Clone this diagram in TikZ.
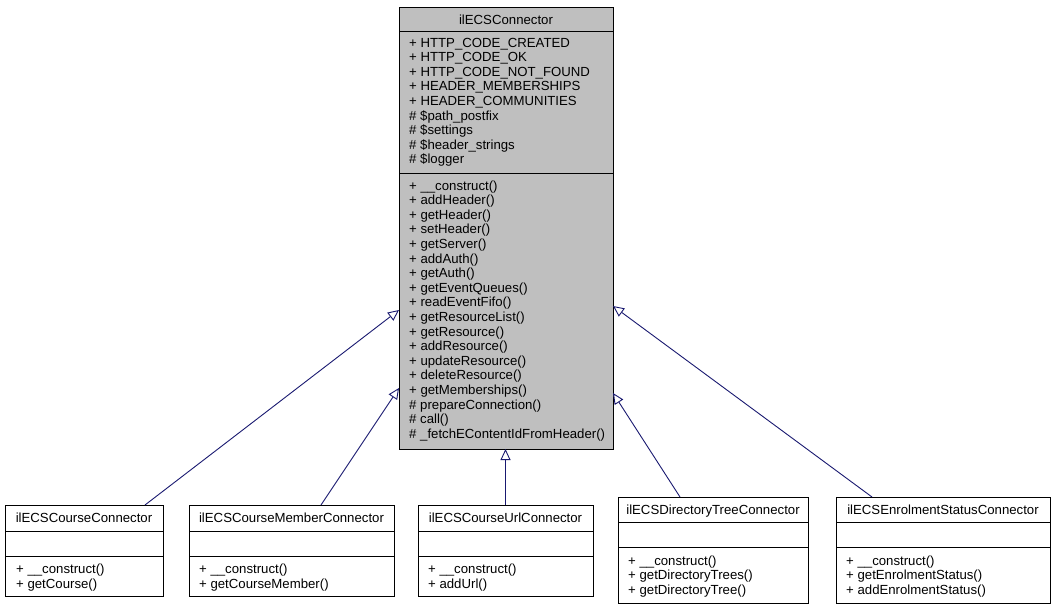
\documentclass[tikz,border=0pt]{standalone}
\usepackage{fontspec}
\setmainfont{Liberation Sans}
\usetikzlibrary{arrows.meta}
\definecolor{edgeblue}{HTML}{191970}
\definecolor{boxgray}{HTML}{BFBFBF}
\begin{document}
\begin{tikzpicture}[x=1pt,y=-1pt,
  box/.style={draw=black,line width=0.9pt,anchor=north west,inner sep=0pt,outer sep=0pt},
  sep/.style={draw=black,line width=0.9pt},
  txt/.style={anchor=mid west,inner sep=0pt,yshift=-1.5pt,font=\fontsize{13.2}{15}\selectfont},
  ttl/.style={anchor=mid,inner sep=0pt,yshift=-1.5pt,font=\fontsize{13.2}{15}\selectfont},
  inherit/.style={draw=edgeblue,line width=0.9pt,-{Triangle[length=11pt,width=10pt,fill=white]}}]
\useasboundingbox (0,0) rectangle (1055,609);

% main class
\node[box,fill=boxgray,minimum width=214pt,minimum height=442pt] (main) at (399,7) {};
\draw[sep] (399,31) -- (613,31);
\draw[sep] (399,173) -- (613,173);
\node[ttl] (mt) at (506,20) {ilECSConnector};
\foreach \t [count=\i from 0] in {+ HTTP\_CODE\_CREATED,+ HTTP\_CODE\_OK,+ HTTP\_CODE\_NOT\_FOUND,+ HEADER\_MEMBERSHIPS,+ HEADER\_COMMUNITIES,\# \$path\_postfix,\# \$settings,\# \$header\_strings,\# \$logger}
  \node[txt] (ma\i) at (409,{43+14.6*\i}) {\t};
\foreach \t [count=\i from 0] in {+ \_\_construct(),+ addHeader(),+ getHeader(),+ setHeader(),+ getServer(),+ addAuth(),+ getAuth(),+ getEventQueues(),+ readEventFifo(),+ getResourceList(),+ getResource(),+ addResource(),+ updateResource(),+ deleteResource(),+ getMemberships(),\# prepareConnection(),\# call(),\# \_fetchEContentIdFromHeader()}
  \node[txt] (mm\i) at (409,{186+14.6*\i}) {\t};

% child 1
\node[box,fill=white,minimum width=158pt,minimum height=91pt] (c1) at (5,505) {};
\draw[sep] (5,531) -- (163,531);
\draw[sep] (5,556) -- (163,556);
\node[ttl] (c1t) at (84,518.5) {ilECSCourseConnector};
\node[txt] (c1m1) at (16,569.5) {+ \_\_construct()};
\node[txt] (c1m2) at (16,584) {+ getCourse()};

% child 2
\node[box,fill=white,minimum width=205pt,minimum height=91pt] (c2) at (189,505) {};
\draw[sep] (189,531) -- (394,531);
\draw[sep] (189,556) -- (394,556);
\node[ttl] (c2t) at (291.5,518.5) {ilECSCourseMemberConnector};
\node[txt] (c2m1) at (199,569.5) {+ \_\_construct()};
\node[txt] (c2m2) at (199,584) {+ getCourseMember()};

% child 3
\node[box,fill=white,minimum width=175pt,minimum height=91pt] (c3) at (418,505) {};
\draw[sep] (418,531) -- (593,531);
\draw[sep] (418,556) -- (593,556);
\node[ttl] (c3t) at (505.5,518.5) {ilECSCourseUrlConnector};
\node[txt] (c3m1) at (428,569.5) {+ \_\_construct()};
\node[txt] (c3m2) at (428,584) {+ addUrl()};

% child 4
\node[box,fill=white,minimum width=190pt,minimum height=106pt] (c4) at (618,497) {};
\draw[sep] (618,522.5) -- (808,522.5);
\draw[sep] (618,547.5) -- (808,547.5);
\node[ttl] (c4t) at (713,510) {ilECSDirectoryTreeConnector};
\node[txt] (c4m1) at (628,561) {+ \_\_construct()};
\node[txt] (c4m2) at (628,575.5) {+ getDirectoryTrees()};
\node[txt] (c4m3) at (628,590) {+ getDirectoryTree()};

% child 5
\node[box,fill=white,minimum width=214pt,minimum height=106pt] (c5) at (836,497) {};
\draw[sep] (836,522.5) -- (1050,522.5);
\draw[sep] (836,547.5) -- (1050,547.5);
\node[ttl] (c5t) at (943,510) {ilECSEnrolmentStatusConnector};
\node[txt] (c5m1) at (846,561) {+ \_\_construct()};
\node[txt] (c5m2) at (846,575.5) {+ getEnrolmentStatus()};
\node[txt] (c5m3) at (846,590) {+ addEnrolmentStatus()};

% inheritance
\draw[inherit] ([xshift=140pt]c1.north west) -- ([yshift=-303pt]main.north west);
\draw[inherit] ([xshift=132pt]c2.north west) -- ([yshift=-381pt]main.north west);
\draw[inherit] (c3.north) -- (c3.north |- main.south);
\draw[inherit] ([xshift=62pt]c4.north west) -- ([yshift=-386pt]main.north east);
\draw[inherit] ([xshift=36pt]c5.north west) -- ([yshift=-299pt]main.north east);
\end{tikzpicture}
\end{document}
